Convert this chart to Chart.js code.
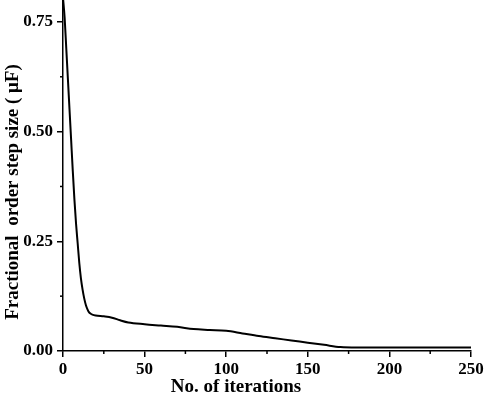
<!DOCTYPE html>
<html>
<head>
<meta charset="utf-8">
<script src="https://cdn.jsdelivr.net/npm/chart.js@4"></script>
<style>
  html, body { margin: 0; padding: 0; background: #fff; }
  #wrap { width: 484px; height: 396px; }
</style>
</head>
<body>
<div id="wrap"><canvas id="grafico"></canvas></div>
<script>
// iterations and fractional order step size
const iteracoes = [0, 1, 2, 3, 4, 5, 6, 7, 8, 9, 10, 11, 12, 13, 14, 15, 16, 17, 18, 20, 25, 30, 35, 40, 50, 60, 70, 80, 90, 100, 110, 120, 130, 140, 150, 160, 170, 180, 200, 250];
const passo = [0.805, 0.76, 0.69, 0.62, 0.55, 0.48, 0.41, 0.345, 0.29, 0.245, 0.2, 0.165, 0.14, 0.12, 0.105, 0.095, 0.088, 0.085, 0.083, 0.081, 0.079, 0.076, 0.07, 0.065, 0.061, 0.058, 0.055, 0.05, 0.048, 0.046, 0.04, 0.034, 0.029, 0.024, 0.019, 0.014, 0.009, 0.008, 0.008, 0.008];

const xTicks = [0, 50, 100, 150, 200, 250];
const yTicks = [0, 0.25, 0.5, 0.75];
const xMinor = [25, 75, 125, 175, 225];
const yMinor = [0.125, 0.375, 0.625];

const fonte = "'Liberation Serif', 'Times New Roman', serif";

// minor ticks + axis titles
const extras = {
  id: "extras",
  afterDraw(chart) {
    const ctx = chart.ctx;
    const x = chart.scales.x, y = chart.scales.y;
    const area = chart.chartArea;
    ctx.save();
    ctx.strokeStyle = "#000";
    ctx.lineWidth = 1.5;
    xMinor.forEach(v => {
      const px = x.getPixelForValue(v);
      ctx.beginPath();
      ctx.moveTo(px, area.bottom);
      ctx.lineTo(px, area.bottom + 3);
      ctx.stroke();
    });
    yMinor.forEach(v => {
      const py = y.getPixelForValue(v);
      ctx.beginPath();
      ctx.moveTo(area.left, py);
      ctx.lineTo(area.left - 3, py);
      ctx.stroke();
    });

    ctx.fillStyle = "#000";
    ctx.font = "bold 19px " + fonte;
    ctx.textAlign = "center";
    ctx.textBaseline = "alphabetic";
    ctx.fillText("No. of iterations", 236, 392);

    ctx.translate(18, 192);
    ctx.rotate(-Math.PI / 2);
    ctx.fillText("Fractional  order step size ( \u03bcF)", 0, 0);
    ctx.restore();
  }
};

new Chart(document.getElementById("grafico"), {
  type: "line",
  data: {
    datasets: [{
      data: iteracoes.map((it, i) => ({ x: it, y: passo[i] })),
      borderColor: "#000",
      borderWidth: 2,
      pointRadius: 0,
      fill: false,
      cubicInterpolationMode: "monotone"
    }]
  },
  options: {
    responsive: true,
    maintainAspectRatio: false,
    animation: false,
    layout: { padding: 0 },
    plugins: {
      legend: { display: false },
      tooltip: { enabled: false }
    },
    scales: {
      x: {
        type: "linear",
        min: 0,
        max: 250,
        afterFit: s => { s.height = 45; s.paddingRight = 13; },
        afterBuildTicks: s => { s.ticks = xTicks.map(v => ({ value: v })); },
        border: { color: "#000", width: 1.5 },
        grid: { drawOnChartArea: false, color: "#000", lineWidth: 1.5, tickLength: 6 },
        ticks: {
          color: "#000",
          padding: 2,
          maxRotation: 0,
          font: { family: fonte, size: 17, weight: "bold" }
        }
      },
      y: {
        min: 0,
        max: 0.8,
        afterFit: s => { s.width = 63; s.paddingTop = 0; },
        afterBuildTicks: s => { s.ticks = yTicks.map(v => ({ value: v })); },
        border: { color: "#000", width: 1.5 },
        grid: { drawOnChartArea: false, color: "#000", lineWidth: 1.5, tickLength: 6 },
        ticks: {
          color: "#000",
          padding: 4,
          callback: v => v.toFixed(2),
          font: { family: fonte, size: 17, weight: "bold" }
        }
      }
    }
  },
  plugins: [extras]
});
</script>
</body>
</html>
